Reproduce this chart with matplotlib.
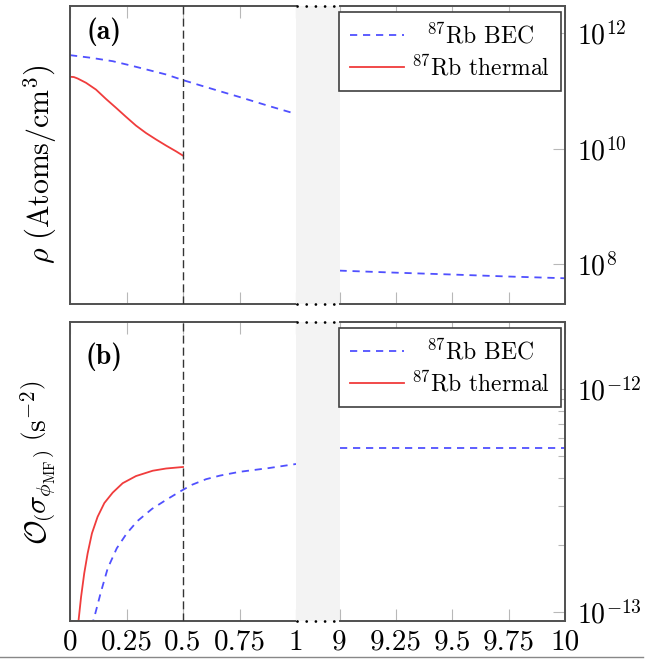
import matplotlib
matplotlib.use("Agg")
import matplotlib.pyplot as plt
from matplotlib.lines import Line2D
from matplotlib.ticker import FixedLocator, FixedFormatter, NullFormatter, NullLocator, LogLocator

plt.rcParams["font.family"] = "serif"
plt.rcParams["font.serif"] = ["cmr10"]
plt.rcParams["mathtext.fontset"] = "cm"
plt.rcParams["axes.unicode_minus"] = False
plt.rcParams["axes.formatter.use_mathtext"] = True

# ---- panel (a): density (atoms / cm^3) ----
a_bec_x_left = [0.0, 0.093, 0.189, 0.270, 0.351, 0.425, 0.502, 0.587, 0.668, 0.749, 0.88, 1.0]
a_bec_y_left = [4.20e11, 3.78e11, 3.30e11, 2.77e11, 2.30e11, 1.94e11, 1.54e11, 1.22e11, 9.8e10,
                7.9e10, 5.5e10, 4.0e10]
a_th_x = [0.0, 0.017, 0.034, 0.071, 0.115, 0.159, 0.204, 0.248, 0.292, 0.336, 0.381, 0.425, 0.469, 0.5]
a_th_y = [1.77e11, 1.75e11, 1.65e11, 1.39e11, 1.06e11, 7.3e10, 5.1e10, 3.56e10, 2.51e10, 1.87e10,
          1.44e10, 1.13e10, 8.98e9, 7.55e9]
a_bec_x_right = [9.0, 9.25, 9.5, 9.75, 10.0]
a_bec_y_right = [7.6e7, 7.0e7, 6.5e7, 6.0e7, 5.6e7]

# ---- panel (b): O(sigma_phi_MF) (s^-2) ----
b_th_x = [0.035, 0.038, 0.049, 0.063, 0.078, 0.097, 0.122, 0.152, 0.189, 0.233, 0.292, 0.366,
          0.425, 0.5]
b_th_y = [8.6e-14, 9.18e-14, 1.167e-13, 1.49e-13, 1.83e-13, 2.25e-13, 2.67e-13, 3.08e-13, 3.43e-13,
          3.78e-13, 4.07e-13, 4.30e-13, 4.40e-13, 4.47e-13]
b_bec_x_left = [0.095, 0.108, 0.137, 0.167, 0.207, 0.251, 0.299, 0.363, 0.425, 0.487, 0.540, 0.602,
                0.664, 0.749, 0.88, 1.0]
b_bec_y_left = [8.6e-14, 9.5e-14, 1.23e-13, 1.57e-13, 1.93e-13, 2.25e-13, 2.56e-13, 2.90e-13, 3.18e-13,
                3.47e-13, 3.72e-13, 3.94e-13, 4.09e-13, 4.25e-13, 4.42e-13, 4.61e-13]
b_bec_x_right = [9.0, 10.0]
b_bec_y_right = [5.43e-13, 5.43e-13]

xticks_left = [0, 0.25, 0.5, 0.75, 1]
xlabels_left = ["0", "0.25", "0.5", "0.75", "1"]
xticks_right = [9, 9.25, 9.5, 9.75, 10]
xlabels_right = ["9", "9.25", "9.5", "9.75", "10"]

blue = "#5050ff"
red = "#f03c3c"
spine_col = "#505050"
tick_col = "#b8b8b8"

W, H = 646, 659
fig = plt.figure(figsize=(W / 100, H / 100), dpi=100)


def px(x0, x1, ytop, ybot):
    return [x0 / W, 1 - ybot / H, (x1 - x0) / W, (ybot - ytop) / H]


def panel(ytop, ybot, ylim, label, ylabel, ylabel_y, bottom):
    axl = fig.add_axes(px(70, 296, ytop, ybot))
    axg = fig.add_axes(px(296, 339.5, ytop, ybot))
    axr = fig.add_axes(px(339.5, 565, ytop, ybot))

    for ax, lim, ticks, labels in [(axl, (0, 1), xticks_left, xlabels_left),
                                   (axr, (9, 10), xticks_right, xlabels_right)]:
        ax.set_xlim(*lim)
        ax.set_yscale("log")
        ax.set_ylim(*ylim)
        ax.xaxis.set_major_locator(FixedLocator(ticks))
        if bottom:
            ax.xaxis.set_major_formatter(FixedFormatter(labels))
        else:
            ax.xaxis.set_major_formatter(NullFormatter())
        ax.tick_params(axis="x", which="both", direction="in", top=True, bottom=True,
                       length=8.5, width=0.8, color=tick_col, labelsize=21, pad=6)
        for s in ax.spines.values():
            s.set_color(spine_col)
            s.set_linewidth(1.4)
    axl.spines["right"].set_visible(False)
    axr.spines["left"].set_visible(False)
    axl.yaxis.set_major_locator(NullLocator())
    axl.yaxis.set_minor_locator(NullLocator())
    axr.yaxis.tick_right()
    axr.tick_params(axis="y", which="both", direction="in", color=tick_col, labelsize=20, pad=9)
    axr.tick_params(axis="y", which="major", length=8.5, width=0.8)
    axr.tick_params(axis="y", which="minor", length=5, width=0.8)

    axg.set_facecolor("#f3f3f3")
    axg.set_xticks([])
    axg.set_yticks([])
    for s in axg.spines.values():
        s.set_visible(False)
    for yy in (0, 1):
        axg.plot([0.03, 1], [yy, yy], transform=axg.transAxes, clip_on=False, color="black",
                 lw=2.0, ls=(0, (0.01, 3.3)), dash_capstyle="round")

    axl.axvline(0.5, color="#333333", lw=1.0, dashes=(5.8, 2.9), zorder=5)
    axl.text(0.152, label[1], label[0], transform=axl.transAxes, ha="center", va="center",
             fontsize=20, family="cmb10")
    axl.set_ylabel(ylabel, fontsize=21.5)
    axl.yaxis.set_label_coords(-0.05, ylabel_y)
    return axl, axr


a_l, a_r = panel(6, 304, (2.0e7, 3.0e12), ("(a)", 0.913),
                 r"$\rho\ \left(\mathrm{Atoms/cm}^3\right)$", 0.47, False)
b_l, b_r = panel(322, 621, (9.1e-14, 2.0e-12), ("(b)", 0.885),
                 r"$\mathcal{O}\left(\sigma_{\phi_{\mathrm{MF}}}\right)\ \left(\mathrm{s}^{-2}\right)$",
                 0.53, True)

a_r.yaxis.set_major_locator(FixedLocator([1e8, 1e10, 1e12]))
a_r.yaxis.set_minor_locator(NullLocator())
b_r.yaxis.set_major_locator(FixedLocator([1e-13, 1e-12]))
b_r.yaxis.set_minor_locator(LogLocator(base=10, subs=[2, 3, 4, 5, 6, 7, 8, 9]))
b_r.yaxis.set_minor_formatter(NullFormatter())

bec_style = dict(color=blue, lw=1.3, dashes=(4.0, 3.2))
th_style = dict(color=red, lw=1.3)

a_l.plot(a_bec_x_left, a_bec_y_left, **bec_style)
a_l.plot(a_th_x, a_th_y, **th_style)
a_r.plot(a_bec_x_right, a_bec_y_right, **bec_style)

b_l.plot(b_bec_x_left, b_bec_y_left, **bec_style)
b_l.plot(b_th_x, b_th_y, **th_style)
b_r.plot(b_bec_x_right, b_bec_y_right, **bec_style)

for ax in (a_r, b_r):
    handles = [Line2D([], [], **bec_style), Line2D([], [], **th_style)]
    leg = ax.legend(handles, [r"$^{87}$Rb BEC", r"$^{87}$Rb thermal"], loc="upper right",
                    bbox_to_anchor=(0.982, 0.98), borderaxespad=0, fontsize=17, frameon=True,
                    fancybox=False, framealpha=1, edgecolor="#404040", handlelength=2.3,
                    handletextpad=0.3, labelspacing=0.3, borderpad=0.45)
    leg.get_frame().set_linewidth(1.2)
    # centre the shorter entry like the original
    col = leg._legend_handle_box.get_children()[0]
    col.get_children()[0].sep += 10.5

fig.add_artist(Line2D([0, 0.995], [0.0025, 0.0025], transform=fig.transFigure, color="#888888", lw=1.0))

fig.savefig("out.png", dpi=100)
